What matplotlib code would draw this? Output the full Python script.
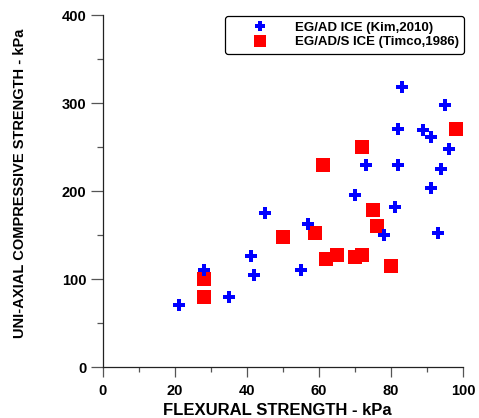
import matplotlib.pyplot as plt
from matplotlib.ticker import MultipleLocator

plt.rcParams['font.family'] = ['Liberation Sans', 'DejaVu Sans']
plt.rcParams['font.weight'] = 'bold'

# EG/AD ICE (Kim, 2010)
kim_x = [21, 28, 35, 41, 42, 45, 55, 57, 70, 73, 78, 81, 82, 82, 83, 89, 91, 91, 93, 94, 95, 96]
kim_y = [70, 110, 80, 126, 104, 175, 110, 162, 195, 230, 150, 182, 230, 270, 318, 269, 261, 203, 152, 225, 298, 248]

# EG/AD/S ICE (Timco, 1986)
timco_x = [28, 28, 50, 59, 61, 62, 65, 70, 72, 72, 75, 76, 80, 98]
timco_y = [80, 100, 148, 152, 230, 123, 127, 125, 127, 250, 178, 160, 115, 270]

fig = plt.figure(figsize=(4.79, 4.18), dpi=100)
ax = fig.add_axes([0.215, 0.122, 0.7516, 0.842])

sq, = ax.plot(timco_x, timco_y, 's', color='#ff0000', markersize=9.4,
              markeredgewidth=0, linestyle='none', label='EG/AD/S ICE (Timco,1986)')
pl, = ax.plot(kim_x, kim_y, 'P', color='#0000ff', markersize=8.6,
              markeredgewidth=0, linestyle='none', label='EG/AD ICE (Kim,2010)')

ax.set_xlim(0, 100)
ax.set_ylim(0, 400)
ax.xaxis.set_major_locator(MultipleLocator(20))
ax.xaxis.set_minor_locator(MultipleLocator(10))
ax.yaxis.set_major_locator(MultipleLocator(100))
ax.yaxis.set_minor_locator(MultipleLocator(50))

for s in ['top', 'right']:
    ax.spines[s].set_visible(False)
for s in ['left', 'bottom']:
    ax.spines[s].set_color('#222222')
    ax.spines[s].set_linewidth(0.9)

ax.tick_params(axis='x', which='major', direction='out', length=7, width=0.9,
               color='#555555', labelsize=10.5, pad=5)
ax.tick_params(axis='x', which='minor', direction='out', length=3.5, width=0.9,
               color='#555555')
ax.tick_params(axis='y', which='major', direction='out', length=9, width=0.9,
               color='#555555', labelsize=10.5, pad=3)
ax.tick_params(axis='y', which='minor', direction='out', length=4.5, width=0.9,
               color='#555555')
for lab in ax.get_xticklabels() + ax.get_yticklabels():
    lab.set_fontweight('bold')

ax.set_xlabel('FLEXURAL STRENGTH - kPa', fontsize=12, fontweight='bold')
ax.xaxis.set_label_coords(0.483, -0.103)
ax.set_ylabel('UNI-AXIAL COMPRESSIVE STRENGTH - kPa', fontsize=10.5, fontweight='bold')
ax.yaxis.set_label_coords(-0.211, 0.523)

leg = ax.legend(handles=[pl, sq], loc='upper right', bbox_to_anchor=(1.003, 0.997),
                fancybox=True, framealpha=1, edgecolor='black',
                prop={'weight': 'bold', 'size': 9.5}, handlelength=4.5,
                handletextpad=0.4, borderpad=0.4, labelspacing=0.2,
                borderaxespad=0, markerscale=0.85)
leg.get_frame().set_linewidth(0.9)

fig.savefig('out.png', dpi=100)
